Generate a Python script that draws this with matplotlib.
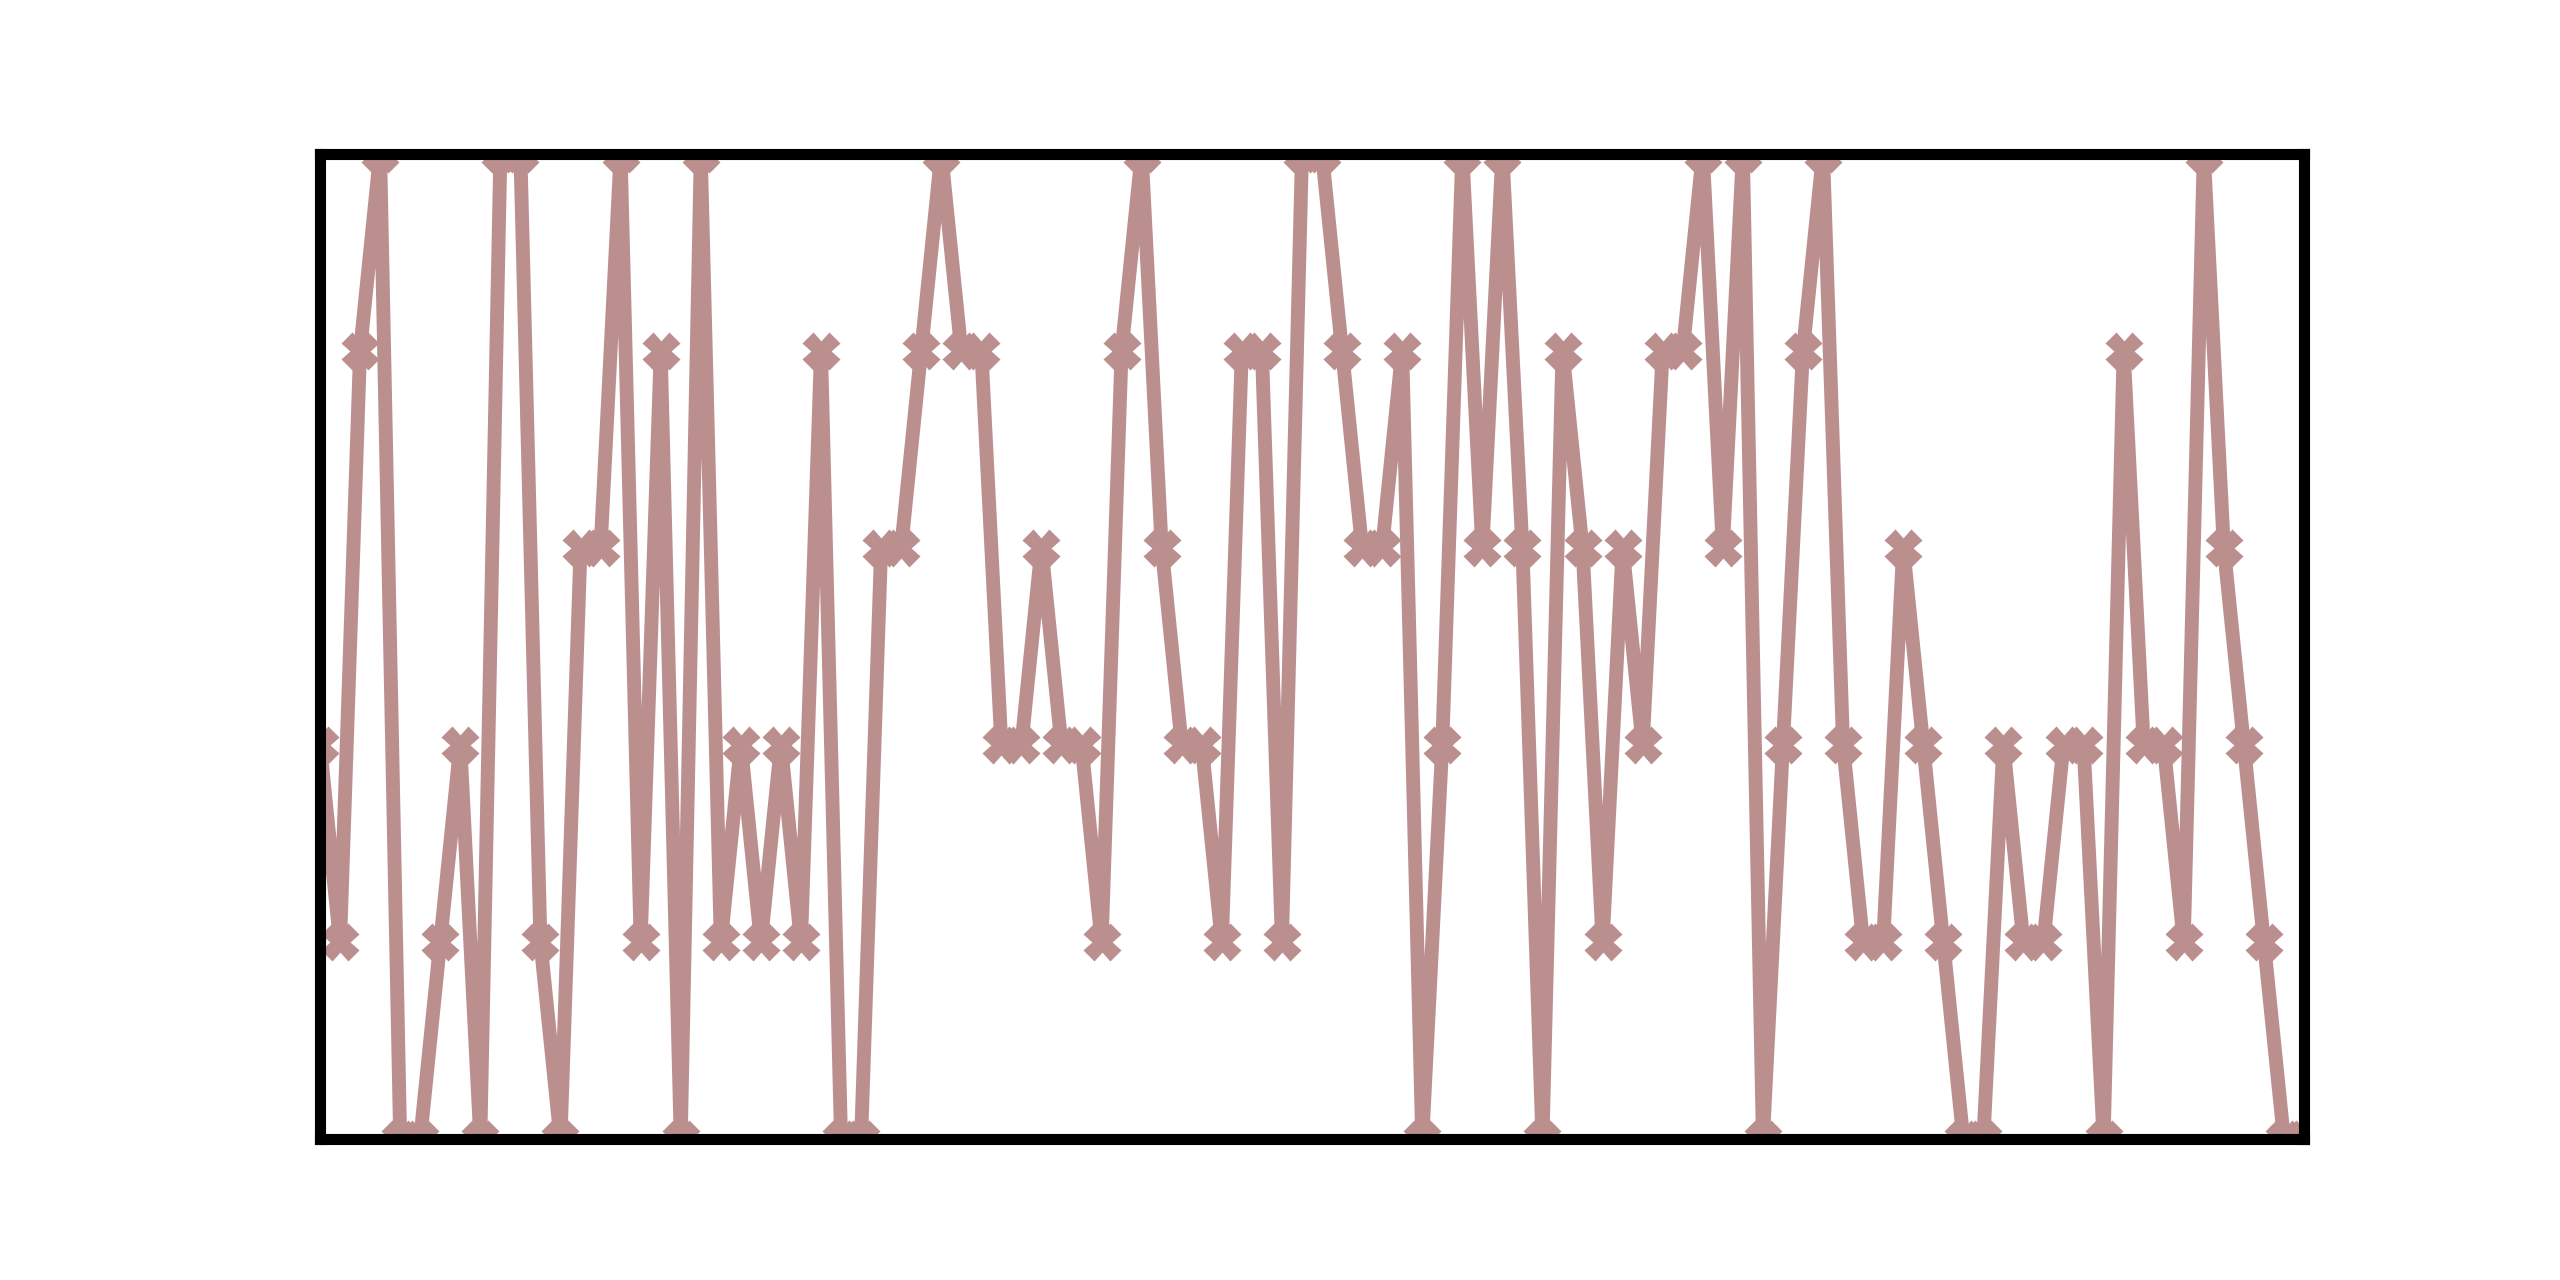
from matplotlib import pyplot as plt
import numpy as np

# values, one per step (levels 0..5)
values = [2, 1, 4, 5, 0, 0, 1, 2, 0, 5,
          5, 1, 0, 3, 3, 5, 1, 4, 0, 5,
          1, 2, 1, 2, 1, 4, 0, 0, 3, 3,
          4, 5, 4, 4, 2, 2, 3, 2, 2, 1,
          4, 5, 3, 2, 2, 1, 4, 4, 1, 5,
          5, 4, 3, 3, 4, 0, 2, 5, 3, 5,
          3, 0, 4, 3, 1, 3, 2, 4, 4, 5,
          3, 5, 0, 2, 4, 5, 2, 1, 1, 3,
          2, 1, 0, 0, 2, 1, 1, 2, 2, 0,
          4, 2, 2, 1, 5, 3, 2, 1, 0, 0]
steps = np.arange(len(values))

line_color = "rosybrown"


def plot_marker_line(x_data, y_data):
    fig = plt.figure(figsize=(12.8, 6.4), dpi=200)
    ax = fig.add_subplot(111)
    ax.plot(x_data, y_data, color=line_color, linewidth=5,
            marker="X", markersize=12)
    ax.set_xlim(min(x_data), max(x_data))
    ax.set_ylim(min(y_data), max(y_data))
    ax.set_xticks([])
    ax.set_yticks([])
    for side in ax.spines:
        ax.spines[side].set_linewidth(4)
        ax.spines[side].set_color("black")
    plt.savefig("out.png", dpi=200)


plot_marker_line(steps, values)
